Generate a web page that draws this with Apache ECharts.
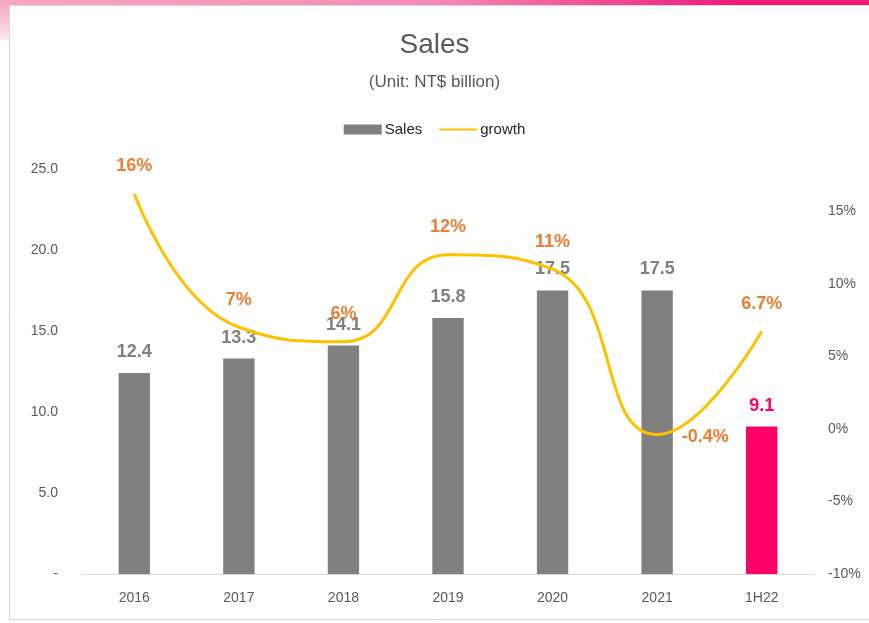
<!DOCTYPE html>
<html>
<head>
<meta charset="utf-8">
<script src="https://cdn.jsdelivr.net/npm/echarts@6/dist/echarts.min.js"></script>
<style>
  html, body { margin: 0; padding: 0; background: #fff; }
  #chart { width: 869px; height: 623px; }
</style>
</head>
<body>
<div id="chart"></div>
<script>
  // 数据
  var categories = ['2016', '2017', '2018', '2019', '2020', '2021', '1H22']
  var salesData = [12.4, 13.3, 14.1, 15.8, 17.5, 17.5, 9.1]
  var growthData = [16.2, 7, 6, 12, 11, -0.4, 6.7]
  var growthLabels = ['16%', '7%', '6%', '12%', '11%', '-0.4%', '6.7%']
  var leftTicks = [0, 5, 10, 15, 20, 25]
  var rightTicks = [-10, -5, 0, 5, 10, 15]

  var font = 'Liberation Sans'
  var chart = echarts.init(document.getElementById('chart'))

  chart.setOption({
    animation: false,
    textStyle: { fontFamily: font },
    // 背景装饰
    graphic: [
      {
        type: 'rect', z: -10,
        shape: { x: 0, y: 0, width: 869, height: 6 },
        style: { fill: new echarts.graphic.LinearGradient(0, 0, 1, 0, [
          { offset: 0, color: '#f7a6c4' },
          { offset: 0.5, color: '#f58ab4' },
          { offset: 0.85, color: '#ee1a78' },
          { offset: 1, color: '#ee1a78' }
        ]) }
      },
      {
        type: 'rect', z: -10,
        shape: { x: 0, y: 0, width: 9, height: 40 },
        style: { fill: new echarts.graphic.LinearGradient(0, 0, 0, 1, [
          { offset: 0, color: '#f7a0c0' },
          { offset: 1, color: '#fce6ef' }
        ]) }
      },
      {
        type: 'rect', z: -9,
        shape: { x: 9.5, y: 5.5, width: 870, height: 614 },
        style: { fill: '#fff', stroke: '#d9d9d9', lineWidth: 1 }
      }
    ],
    title: [
      {
        text: 'Sales',
        left: 'center', top: 26,
        textStyle: { fontSize: 28, fontWeight: 'normal', color: '#595959', fontFamily: font }
      },
      {
        text: '(Unit: NT$ billion)',
        left: 'center', top: 69,
        textStyle: { fontSize: 17, fontWeight: 'normal', color: '#595959', fontFamily: font }
      }
    ],
    legend: {
      top: 117, left: 'center',
      itemWidth: 38, itemHeight: 10, itemGap: 16,
      textStyle: { fontSize: 15, color: '#262626', fontFamily: font, padding: [0, 0, 0, -2] },
      data: [
        { name: 'Sales', icon: 'rect' },
        { name: 'growth', itemStyle: { opacity: 0 } }
      ]
    },
    grid: { left: 82, right: 55, top: 169, bottom: 49 },
    xAxis: {
      type: 'category',
      data: categories,
      axisLine: { lineStyle: { color: '#d9d9d9', width: 1 } },
      axisTick: { show: false },
      axisLabel: { fontSize: 14, color: '#595959', margin: 17 }
    },
    yAxis: [
      {
        type: 'value',
        min: leftTicks[0], max: leftTicks[leftTicks.length - 1], interval: 5,
        splitLine: { show: false },
        axisLine: { show: false },
        axisTick: { show: false },
        axisLabel: {
          fontSize: 14, color: '#595959', margin: 24,
          formatter: function (v) { return v === 0 ? '-' : v.toFixed(1) }
        }
      },
      {
        type: 'value',
        position: 'right',
        min: rightTicks[0], max: 17.9, interval: 5,
        splitLine: { show: false },
        axisLine: { show: false },
        axisTick: { show: false },
        axisLabel: {
          fontSize: 14, color: '#595959', margin: 14,
          formatter: function (v) { return rightTicks.indexOf(v) >= 0 ? v + '%' : '' }
        }
      }
    ],
    series: [
      {
        name: 'Sales',
        type: 'bar',
        barWidth: '30%',
        itemStyle: { color: '#808080' },
        data: salesData.map(function (v, i) {
          var last = i === salesData.length - 1
          return {
            value: v,
            itemStyle: last ? { color: '#ff0066' } : undefined,
            label: last ? { color: '#ff0066' } : undefined
          }
        }),
        label: {
          show: true, position: 'top', distance: 12,
          fontSize: 18, fontWeight: 'bold', color: '#808080',
          formatter: function (p) { return p.value.toFixed(1) }
        }
      },
      {
        name: 'growth',
        type: 'line',
        yAxisIndex: 1,
        smooth: 0.5,
        symbol: 'circle',
        symbolSize: 1,
        showSymbol: true,
        lineStyle: { color: '#ffc000', width: 3 },
        itemStyle: { color: 'rgba(255,192,0,0)' },
        data: growthData.map(function (v, i) {
          return {
            value: v,
            label: i === 5 ? { position: 'right', distance: 8, offset: [16, 2] } : undefined
          }
        }),
        label: {
          show: true, position: 'top', distance: 18,
          fontSize: 18, fontWeight: 'bold', color: '#ed7d31',
          formatter: function (p) { return growthLabels[p.dataIndex] }
        },
        z: 5
      }
    ]
  })
</script>
</body>
</html>
